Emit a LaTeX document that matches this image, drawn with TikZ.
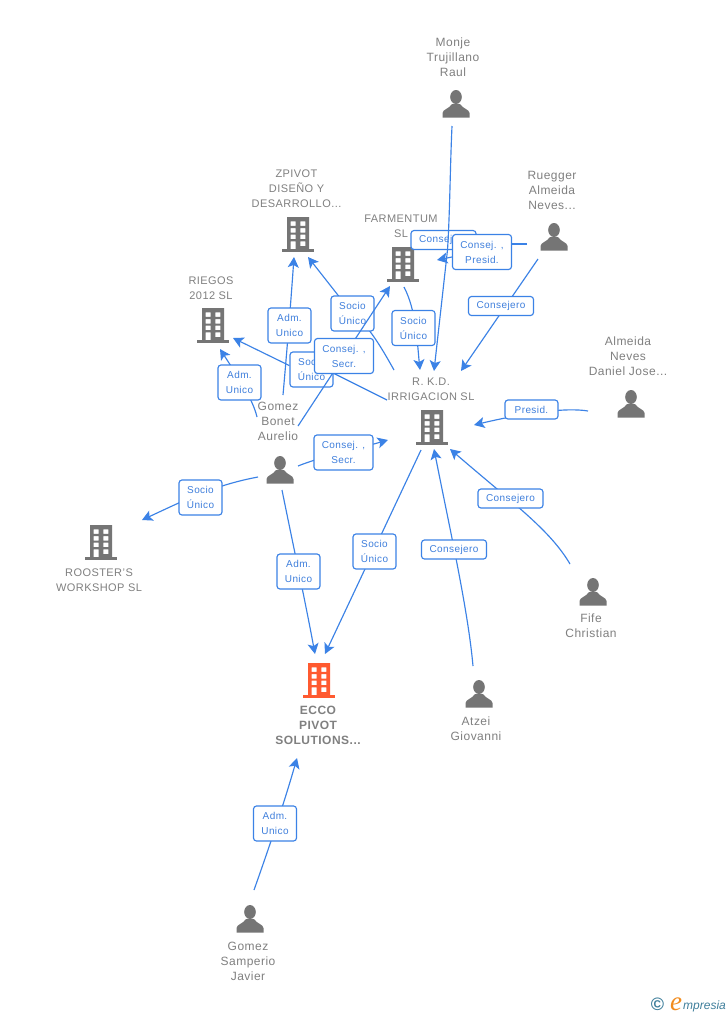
\documentclass[tikz,border=0pt]{standalone}
\usepackage{fontspec}
\setmainfont[LetterSpace=4]{Liberation Sans}
\newfontfamily\logoserif{Liberation Serif}
\newfontfamily\logosans{Liberation Sans}
\usetikzlibrary{arrows.meta}
\definecolor{iconGrey}{HTML}{757575}
\definecolor{iconOrange}{HTML}{FF5A30}
\definecolor{nameGrey}{HTML}{808080}
\definecolor{linkBlue}{HTML}{3B82E6}
\definecolor{boxText}{HTML}{3F7FDC}
\definecolor{logoTeal}{HTML}{3F7F9C}
\definecolor{logoOrange}{HTML}{F28C1E}
\tikzset{
  x=1pt,y=-1pt,
  edge/.style={draw=linkBlue,line width=1.15pt,-{Stealth[length=10.5pt,width=11pt,inset=2.5pt]}},
  tail/.style={draw=linkBlue,line width=1.15pt},
  lbox/.style={draw=linkBlue,fill=white,line width=1.15pt,rounded corners=3pt,inner sep=0pt,align=center,
     text=boxText,font=\fontsize{10}{15}\selectfont},
  boxa/.style={lbox,minimum width=43pt,minimum height=35pt},
  boxb/.style={lbox,minimum width=59pt,minimum height=35pt},
  boxc/.style={lbox,minimum width=65pt,minimum height=19pt},
  boxd/.style={lbox,minimum width=53pt,minimum height=19pt},
  pname/.style={align=center,inner sep=0pt,text=nameGrey,font=\fontsize{12}{15}\selectfont},
  cname/.style={align=center,inner sep=0pt,text=nameGrey,font=\fontsize{11}{15}\selectfont},
  mname/.style={align=center,inner sep=0pt,text=nameGrey,font=\fontsize{12}{15}\selectfont\bfseries},
  pics/bld/.style={code={
    \fill[#1,even odd rule] (-11,0) rectangle (11,32)
      (-7.4,4.3) rectangle (-2.3,8.9) (2.3,4.3) rectangle (7.4,8.9)
      (-7.4,11) rectangle (-2.3,15.5) (2.3,11) rectangle (7.4,15.5)
      (-7.4,17.7) rectangle (-2.3,22.2) (2.3,17.7) rectangle (7.4,22.2)
      (-7.4,24.3) rectangle (-2.3,32) (2.3,24.3) rectangle (7.4,29);
    \fill[#1] (-16,32) rectangle (16,35);
  }},
  pics/psn/.style={code={
    \fill[iconGrey] (0,7) ellipse [x radius=5.8,y radius=7];
    \fill[iconGrey] (-13.5,27.5) -- (-13.5,23) .. controls (-13.5,19.5) and (-6.5,18.5) .. (-4,14)
      -- (4,14) .. controls (6.5,18.5) and (13.5,19.5) .. (13.5,23) -- (13.5,27.5) -- cycle;
  }}
}
\begin{document}
\begin{tikzpicture}
\useasboundingbox[fill=white] (0,0) rectangle (728,1015);
% icons
\pic at (298,217) {bld=iconGrey};
\pic at (403,247) {bld=iconGrey};
\pic at (213,308) {bld=iconGrey};
\pic at (432,410) {bld=iconGrey};
\pic at (101,525) {bld=iconGrey};
\pic at (319,663) {bld=iconOrange};
\pic at (456,90) {psn};
\pic at (554,223) {psn};
\pic at (631,390) {psn};
\pic at (280,456) {psn};
\pic at (593,578) {psn};
\pic at (479,680) {psn};
\pic at (250,905) {psn};
% names
\node[pname] (monje) at (453,57) {Monje\\Trujillano\\Raul};
\node[pname] (ruegger) at (552,190) {Ruegger\\Almeida\\Neves...};
\node[pname] (almeida) at (628,356) {Almeida\\Neves\\Daniel Jose...};
\node[pname] (bonet) at (278,421.5) {Gomez\\Bonet\\Aurelio};
\node[pname] (fife) at (591,626) {Fife\\Christian};
\node[pname] (atzei) at (476,729) {Atzei\\Giovanni};
\node[pname] (samperio) at (248,961) {Gomez\\Samperio\\Javier};
\node[cname] (zpivot) at (296.5,189) {ZPIVOT\\DISEÑO Y\\DESARROLLO...};
\node[cname] (farmentum) at (401,226) {FARMENTUM\\SL};
\node[cname] (riegos) at (211,288) {RIEGOS\\2012 SL};
\node[cname] (rkd) at (431,389) {R. K.D.\\IRRIGACION SL};
\node[cname] (rooster) at (99,580) {ROOSTER'S\\WORKSHOP SL};
\node[mname] (ecco) at (318,725) {ECCO\\PIVOT\\SOLUTIONS...};
% free ends of the connectors
\coordinate (a1) at (452,126); \coordinate (a1m) at (447.5,250); \coordinate (b1) at (434,371);
\coordinate (a2) at (527,244); \coordinate (b2) at (437,260);
\coordinate (a3) at (538,259); \coordinate (b3) at (461,371);
\coordinate (a4) at (404,287); \coordinate (b4) at (420,370);
\coordinate (a5) at (588,411); \coordinate (b5) at (474,425);
\coordinate (a6) at (570,564); \coordinate (b6) at (450,449);
\coordinate (a7) at (473,666); \coordinate (b7) at (434,449);
\coordinate (a8) at (421,450); \coordinate (b8) at (325,654);
\coordinate (a9) at (282,490); \coordinate (b9) at (315,654);
\coordinate (a10) at (258,477); \coordinate (b10) at (142,520);
\coordinate (a11) at (298,466); \coordinate (b11) at (388,440);
\coordinate (a12) at (257,417); \coordinate (b12) at (220,349);
\coordinate (a13) at (283,395); \coordinate (b13) at (294,257);
\coordinate (a14) at (298,426); \coordinate (b14) at (390,286);
\coordinate (a15) at (394,370); \coordinate (b15) at (308,257);
\coordinate (a16) at (387,400); \coordinate (b16) at (233,338);
\coordinate (a17) at (254,890); \coordinate (b17) at (297,758);
% connectors and their labels
\node[boxa] (l16) at (311.5,369.5) {Socio\\Único};
\draw[tail] (a16) -- (333,373);
\draw[edge] (l16.170) -- (b16);
\draw[edge] (a15) .. controls (380,345) and (368,325) .. (352,313) -- (b15);
\node[boxa] (l15) at (352.5,313.5) {Socio\\Único};
\draw[edge] (a13) .. controls (287,350) and (291,300) .. (b13);
\node[boxa] (l13) at (289.5,325.5) {Adm.\\Unico};
\draw[edge] (a14) -- (b14);
\node[boxb] (l14) at (344,356) {Consej. ,\\Secr.};
\draw[edge] (a12) .. controls (253,400) and (240,380) .. (b12);
\node[boxa] (l12) at (239.5,382.5) {Adm.\\Unico};
\node[boxc] (l1) at (443.5,240) {Consejero};
\draw[edge] (a1) .. controls (450,170) and (450,210) .. (a1m) -- (b1);
\node[boxb] (l2) at (482,252) {Consej. ,\\Presid.};
\draw[tail] (a2) -- (l2.east |- a2);
\draw[edge] (l2.west |- 453,257) -- (b2);
\draw[edge] (a3) -- (b3);
\node[boxc] (l3) at (501,306) {Consejero};
\draw[edge] (a4) .. controls (416,310) and (417,340) .. (b4);
\node[boxa] (l4) at (413.5,328) {Socio\\Único};
\draw[edge] (a5) .. controls (565,407) and (520,414) .. (b5);
\node[boxd] (l5) at (531.5,409.5) {Presid.};
\draw[edge] (a6) .. controls (550,530) and (515,505) .. (b6);
\node[boxc] (l6) at (510.5,498.5) {Consejero};
\draw[edge] (a7) .. controls (468,610) and (450,530) .. (b7);
\node[boxc] (l7) at (454,549.5) {Consejero};
\draw[edge] (a8) -- (b8);
\node[boxa] (l8) at (374.5,551.5) {Socio\\Único};
\draw[edge] (a9) .. controls (290,530) and (305,600) .. (b9);
\node[boxa] (l9) at (298.5,571.5) {Adm.\\Unico};
\draw[edge] (a10) .. controls (215,485) and (185,500) .. (b10);
\node[boxa] (l10) at (200.5,497.5) {Socio\\Único};
\draw[edge] (a11) .. controls (320,457) and (360,448) .. (b11);
\node[boxb] (l11) at (343.5,452.5) {Consej. ,\\Secr.};
\draw[edge] (a17) .. controls (270,845) and (285,800) .. (b17);
\node[boxa] (l17) at (275,823.5) {Adm.\\Unico};
% logo
\node[inner sep=0pt,text=logoTeal,font=\logosans\bfseries\fontsize{18}{18}\selectfont] (copy) at (657.5,1004) {©};
\node[inner sep=0pt,anchor=base west,text=logoOrange,font=\logoserif\itshape\fontsize{27}{27}\selectfont] (logoe) at (670,1010) {e};
\node[inner sep=0pt,anchor=base west,text=logoTeal,font=\logosans\itshape\fontsize{12}{14}\selectfont] (logot) at (683,1009) {mpresia};
\end{tikzpicture}
\end{document}
